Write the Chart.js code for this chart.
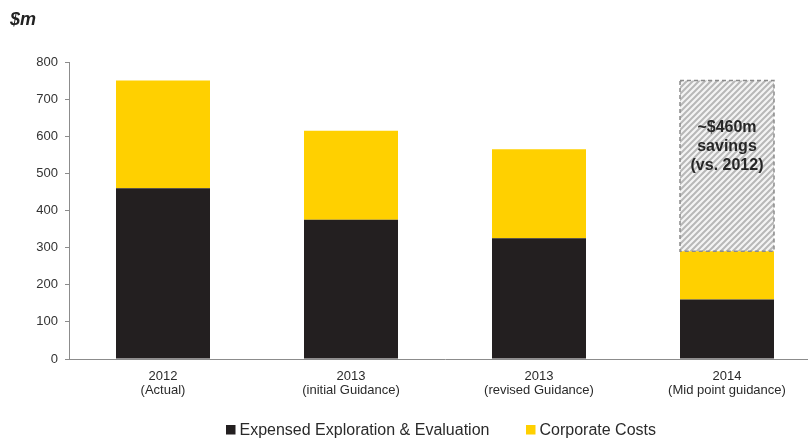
<!DOCTYPE html>
<html>
<head>
<meta charset="utf-8">
<script src="https://cdn.jsdelivr.net/npm/chart.js@4.4.0/dist/chart.umd.min.js"></script>
<style>
  html, body { margin: 0; padding: 0; background: #fff; overflow: hidden; }
  #wrap { position: relative; width: 830px; height: 439px; }
</style>
</head>
<body>
<div id="wrap"><canvas id="costChart" width="830" height="439"></canvas></div>
<script>
// Cost breakdown, $m
const categories = [
  ['2012', '(Actual)'],
  ['2013', '(initial Guidance)'],
  ['2013', '(revised Guidance)'],
  ['2014', '(Mid point guidance)']
];
const explorationEval = [460, 375, 325, 160];
const corporateCosts = [290, 240, 240, 130];
const savings = [null, null, null, 460];
const savingsNote = ['~$460m', 'savings', '(vs. 2012)'];
const yTicks = [0, 100, 200, 300, 400, 500, 600, 700, 800];

const sans = '"Liberation Sans", Arial, sans-serif';

// diagonal stripe fill for the savings block
function stripes() {
  const c = document.createElement('canvas');
  c.width = 6; c.height = 6;
  const g = c.getContext('2d');
  g.fillStyle = '#f4f4f4';
  g.fillRect(0, 0, 6, 6);
  g.strokeStyle = '#b8b8b8';
  g.lineWidth = 2;
  g.beginPath();
  g.moveTo(-1, 7); g.lineTo(7, -1);
  g.moveTo(-4, 4); g.lineTo(4, -4);
  g.moveTo(2, 10); g.lineTo(10, 2);
  g.stroke();
  return g.createPattern(c, 'repeat');
}

const extras = {
  id: 'extras',
  afterDatasetsDraw(chart) {
    const ctx = chart.ctx;
    // dashed outline + note on the savings block
    const meta = chart.getDatasetMeta(2);
    meta.data.forEach((bar, i) => {
      if (savings[i] == null) return;
      const p = bar.getProps(['x', 'y', 'base', 'width'], true);
      const l = p.x - p.width / 2;
      ctx.save();
      ctx.strokeStyle = '#8c8c8c';
      ctx.lineWidth = 1.5;
      ctx.setLineDash([4, 3]);
      ctx.strokeRect(l, p.y, p.width, p.base - p.y);
      ctx.setLineDash([]);
      ctx.fillStyle = '#262626';
      ctx.font = 'bold 16px ' + sans;
      ctx.textAlign = 'center';
      ctx.textBaseline = 'middle';
      savingsNote.forEach((t, k) => ctx.fillText(t, p.x, 128 + k * 19));
      ctx.restore();
    });
  },
  afterDraw(chart) {
    const ctx = chart.ctx;
    const xs = chart.scales.x;
    ctx.save();
    ctx.textBaseline = 'alphabetic';
    // category labels, two lines each
    ctx.fillStyle = '#2a2a2a';
    ctx.font = '13px ' + sans;
    ctx.textAlign = 'center';
    chart.data.labels.forEach((lines, i) => {
      const cx = xs.getPixelForTick(i);
      lines.forEach((t, k) => ctx.fillText(t, cx, 379.5 + k * 14.5));
    });
    // unit label
    ctx.fillStyle = '#222';
    ctx.font = 'italic bold 18px ' + sans;
    ctx.textAlign = 'left';
    ctx.fillText('$m', 10, 25);
    // legend (first two series)
    ctx.font = '16px ' + sans;
    const boxX = [226, 526];
    chart.data.datasets.slice(0, 2).forEach((ds, i) => {
      ctx.fillStyle = ds.backgroundColor;
      ctx.fillRect(boxX[i], 425, 9.5, 9.5);
      ctx.fillStyle = '#2a2a2a';
      ctx.fillText(ds.label, boxX[i] + 13.5, 434.5);
    });
    ctx.restore();
  }
};

new Chart(document.getElementById('costChart'), {
  type: 'bar',
  data: {
    labels: categories,
    datasets: [
      { label: 'Expensed Exploration & Evaluation', data: explorationEval, backgroundColor: '#231f20' },
      { label: 'Corporate Costs', data: corporateCosts, backgroundColor: '#ffd000' },
      { label: 'Savings', data: savings, backgroundColor: stripes() }
    ]
  },
  options: {
    responsive: false,
    animation: false,
    layout: { padding: { left: 0, top: 62, right: 9, bottom: 0 } },
    datasets: { bar: { barPercentage: 0.5, categoryPercentage: 1 } },
    plugins: { legend: { display: false }, tooltip: { enabled: false } },
    scales: {
      x: {
        stacked: true,
        afterFit: s => { s.height = 80; },
        grid: { display: false },
        border: { display: true, color: '#8c8c8c', width: 1 },
        ticks: { display: false }
      },
      y: {
        stacked: true,
        min: 0,
        max: 800,
        afterFit: s => { s.width = 69; },
        afterBuildTicks: s => { s.ticks = yTicks.map(v => ({ value: v })); },
        grid: { drawOnChartArea: false, drawTicks: true, tickLength: 4, color: '#8c8c8c' },
        border: { display: true, color: '#8c8c8c', width: 1 },
        ticks: { color: '#333', padding: 7, font: { family: sans, size: 13 } }
      }
    }
  },
  plugins: [extras]
});
</script>
</body>
</html>
